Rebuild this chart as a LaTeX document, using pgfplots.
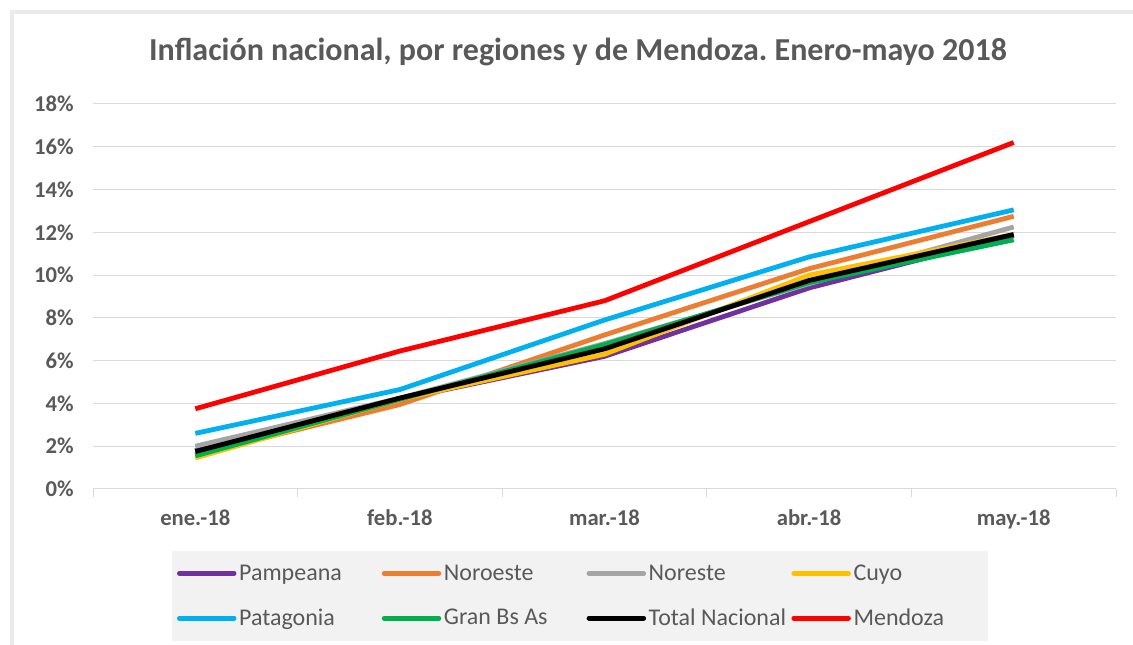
\documentclass[border=0pt]{standalone}
\usepackage{fontspec}
\setmainfont{Carlito}
\usepackage{pgfplots}
\pgfplotsset{compat=1.18}
\definecolor{txt}{HTML}{595959}
\definecolor{gridc}{HTML}{D9D9D9}
\definecolor{framec}{HTML}{EBEBEB}
\definecolor{cPamp}{HTML}{7030A0}
\definecolor{cNoa}{HTML}{ED7D31}
\definecolor{cNea}{HTML}{A5A5A5}
\definecolor{cCuyo}{HTML}{FFC000}
\definecolor{cPat}{HTML}{00B0F0}
\definecolor{cGba}{HTML}{00B050}
\definecolor{cMza}{HTML}{FF0000}
\definecolor{legbg}{HTML}{F2F2F2}
\newcommand{\lbox}[1]{\makebox[105pt][l]{#1}}
\frenchspacing
\begin{document}
\begin{tikzpicture}
\path[use as bounding box] (0pt,0pt) rectangle (849.75pt,483.75pt);
\draw[framec, line width=3pt] (9pt,0pt) -- (9pt,474.75pt) -- (849.75pt,474.75pt);
\node[txt, font=\fontsize{24}{28}\selectfont\bfseries] at (433.5pt,444.75pt) {Inflación nacional, por regiones y de Mendoza. Enero-mayo 2018};
\begin{axis}[
  at={(69.75pt,117pt)}, anchor=south west,
  scale only axis, width=767.25pt, height=288.75pt,
  xmin=-0.5, xmax=4.5, ymin=0, ymax=18,
  xtick={0,1,2,3,4},
  xticklabels={ene.-18,feb.-18,mar.-18,abr.-18,may.-18},
  minor xtick={-0.5,0.5,1.5,2.5,3.5,4.5},
  major tick length=0pt, minor tick length=6pt,
  tick align=outside,
  ytick={0,2,...,18},
  yticklabels={0\%,2\%,4\%,6\%,8\%,10\%,12\%,14\%,16\%,18\%},
  ymajorgrids, grid style={gridc, line width=0.75pt},
  axis x line*=bottom, axis y line*=left,
  y axis line style={draw=none},
  x axis line style={gridc, line width=0.75pt, -},
  every tick/.style={gridc, line width=0.75pt},
  ytick style={draw=none},
  tick label style={txt, font=\fontsize{17}{20}\selectfont\bfseries},
  xticklabel style={yshift=-12pt},
  yticklabel style={xshift=-11pt},
  legend style={at={(0.476,0)}, anchor=north, yshift=-46.5pt,
    fill=legbg, draw=none, font=\fontsize{18}{21}\selectfont, text=txt,
    inner xsep=4pt, inner ysep=8pt, row sep=16pt},
  legend columns=4,
  legend cell align=left,
  legend image code/.code={\draw[#1, line cap=round] (0pt,0pt) -- (41pt,0pt);},
  every axis plot/.append style={line width=3.6pt, line join=round},
  clip=false,
]
\addplot[cPamp] coordinates {(0,1.8) (1,4.2) (2,6.2) (3,9.4) (4,11.85)};
\addlegendentry{\lbox{Pampeana}}
\addplot[cNoa] coordinates {(0,1.6) (1,3.95) (2,7.2) (3,10.3) (4,12.75)};
\addlegendentry{\lbox{Noroeste}}
\addplot[cNea] coordinates {(0,2.0) (1,4.25) (2,6.8) (3,9.6) (4,12.25)};
\addlegendentry{\lbox{Noreste}}
\addplot[cCuyo] coordinates {(0,1.45) (1,4.2) (2,6.3) (3,10.0) (4,11.9)};
\addlegendentry{\makebox[95pt][l]{Cuyo}}
\addplot[cPat] coordinates {(0,2.6) (1,4.65) (2,7.9) (3,10.85) (4,13.05)};
\addlegendentry{\lbox{Patagonia}}
\addplot[cGba] coordinates {(0,1.55) (1,4.2) (2,6.75) (3,9.65) (4,11.65)};
\addlegendentry{\lbox{Gran Bs As}}
\addplot[black] coordinates {(0,1.75) (1,4.25) (2,6.55) (3,9.75) (4,11.9)};
\addlegendentry{\lbox{Total Nacional}}
\addplot[cMza] coordinates {(0,3.75) (1,6.45) (2,8.8) (3,12.5) (4,16.2)};
\addlegendentry{\makebox[95pt][l]{Mendoza}}
\end{axis}
\end{tikzpicture}
\end{document}
